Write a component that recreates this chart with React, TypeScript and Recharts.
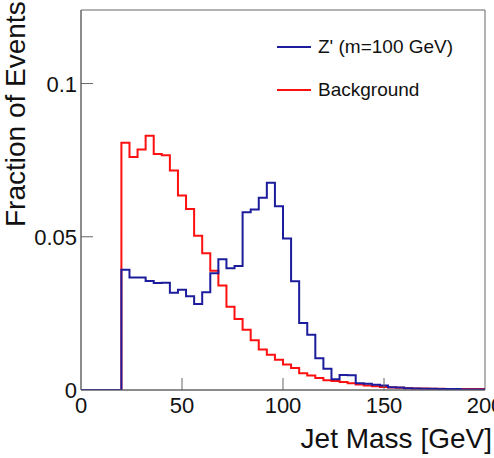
import { LineChart, Line, XAxis, YAxis, ReferenceArea, Legend, Label } from 'recharts'

// 4 GeV bins from 0 to 200 GeV (50 bins), value = fraction of events per bin
const BIN_WIDTH = 4
const background = [
  0, 0, 0, 0, 0,
  0.0807, 0.076, 0.0785, 0.083, 0.077, 0.0766, 0.0716, 0.0635, 0.0591, 0.0503,
  0.0446, 0.0389, 0.0341, 0.0272, 0.0232, 0.0197, 0.0162, 0.0132, 0.0115, 0.0099,
  0.0083, 0.0072, 0.0055, 0.0047, 0.0039, 0.0032, 0.0029, 0.0026, 0.0022, 0.0018,
  0.0015, 0.0012, 0.001, 0.0008, 0.0007, 0.0006, 0.0005, 0.0005, 0.0004, 0.0004,
  0.0003, 0.0003, 0.0003, 0.0003, 0.0003,
]
const zprime = [
  0, 0, 0, 0, 0,
  0.0392, 0.0367, 0.0367, 0.0356, 0.0349, 0.035, 0.0317, 0.0327, 0.0306, 0.0281,
  0.0319, 0.0381, 0.0427, 0.0397, 0.0405, 0.058, 0.0589, 0.0627, 0.0676, 0.06,
  0.0494, 0.0355, 0.0219, 0.018, 0.0104, 0.0069, 0.0035, 0.0049, 0.0048, 0.0022,
  0.002, 0.0017, 0.0015, 0.0009, 0.0008, 0.0006, 0.0005, 0.0004, 0.0004, 0.0003,
  0.0003, 0.0003, 0.0002, 0.0002, 0.0002,
]
const xTicks = [0, 50, 100, 150, 200]
const yTicks = [0, 0.05, 0.1]
const yTickLabels = ['0', '0.05', '0.1']

const BLUE = '#1c1c9c'
const RED = '#ff1010'
const FONT = '"Liberation Sans", Arial, Helvetica, sans-serif'

// step histogram: one point per lower bin edge + closing point at the upper edge
const data = background.map((b, i) => ({ x: i * BIN_WIDTH, bkg: b, sig: zprime[i] }))
data.push({ x: background.length * BIN_WIDTH, bkg: background[background.length - 1], sig: zprime[zprime.length - 1] })

const YTick = (props: any) => {
  const { x, y, index } = props
  return (
    <g>
      {index > 0 && <line x1={x} x2={x + 12} y1={y} y2={y} stroke="#666" strokeWidth={1} />}
      <text x={x - 4} y={y + 8} textAnchor="end" fontSize={22} fill="#111" fontFamily={FONT}>
        {yTickLabels[index]}
      </text>
    </g>
  )
}

const XTick = (props: any) => {
  const { x, y, payload, index } = props
  return (
    <g>
      {index > 0 && index < xTicks.length - 1 && (
        <line x1={x} x2={x} y1={y} y2={y - 12} stroke="#666" strokeWidth={1} />
      )}
      <text x={x} y={y + 23} textAnchor="middle" fontSize={22} fill="#111" fontFamily={FONT}>
        {payload.value}
      </text>
    </g>
  )
}

const LegendBox = () => {
  const rows = [
    { label: "Z' (m=100 GeV)", color: BLUE },
    { label: 'Background', color: RED },
  ]
  return (
    <svg width={200} height={70} style={{ display: 'block', overflow: 'visible' }}>
      {rows.map((r, i) => (
        <g key={r.label}>
          <line x1={0} x2={34} y1={12 + i * 43} y2={12 + i * 43} stroke={r.color} strokeWidth={2} />
          <text x={41} y={18 + i * 43} fontSize={19} fill="#111" fontFamily={FONT}>
            {r.label}
          </text>
        </g>
      ))}
    </svg>
  )
}

export default function App() {
  return (
    <div style={{ position: 'absolute', left: 0, top: 0, background: '#fff' }}>
      <LineChart width={494} height={458} data={data} margin={{ top: 10, right: 9, left: 0, bottom: 0 }}>
        <XAxis
          dataKey="x"
          type="number"
          domain={[0, 200]}
          ticks={xTicks}
          interval={0}
          height={68}
          tickSize={0}
          tickMargin={0}
          tick={<XTick />}
          axisLine={{ stroke: '#666' }}
          tickLine={false}
          allowDataOverflow
        >
          <Label
            content={(p: any) => (
              <text
                x={p.viewBox.x + p.viewBox.width + 7}
                y={p.viewBox.y + 58}
                textAnchor="end"
                fontSize={28}
                fill="#111"
                fontFamily={FONT}
              >
                Jet Mass [GeV]
              </text>
            )}
          />
        </XAxis>
        <YAxis
          type="number"
          domain={[0, 0.124]}
          ticks={yTicks}
          interval={0}
          width={81}
          tickSize={0}
          tickMargin={0}
          tick={<YTick />}
          axisLine={{ stroke: '#666' }}
          tickLine={false}
          allowDataOverflow
        >
          <Label
            content={() => (
              <text
                x={25}
                y={227}
                transform="rotate(-90 25 227)"
                textAnchor="start"
                fontSize={28}
                fill="#111"
                fontFamily={FONT}
              >
                Fraction of Events
              </text>
            )}
          />
        </YAxis>
        <ReferenceArea x1={0} x2={200} y1={0} y2={0.124} fill="none" stroke="#666" strokeWidth={1} />
        <Legend
          content={<LegendBox />}
          wrapperStyle={{ position: 'absolute', left: 277, top: 35, width: 0, height: 0, overflow: 'visible' }}
        />
        <Line
          type="stepAfter"
          dataKey="bkg"
          stroke={RED}
          strokeWidth={2}
          dot={false}
          activeDot={false}
          isAnimationActive={false}
        />
        <Line
          type="stepAfter"
          dataKey="sig"
          stroke={BLUE}
          strokeWidth={2}
          dot={false}
          activeDot={false}
          isAnimationActive={false}
        />
      </LineChart>
    </div>
  )
}
